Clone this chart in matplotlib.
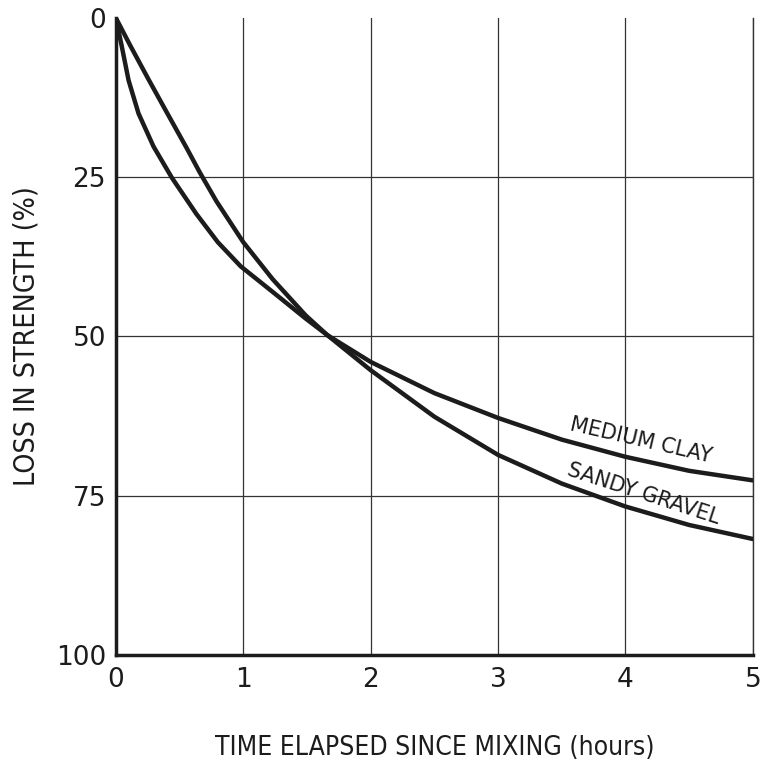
import matplotlib
matplotlib.use("Agg")
import matplotlib.pyplot as plt

# valores (perda de resistencia x tempo)
hours_clay = [0, 0.047, 0.10, 0.178, 0.296, 0.44, 0.633, 0.8, 0.98, 1.23, 1.49, 1.66, 2.0,
              2.5, 3.0, 3.5, 4.0, 4.5, 5.0]
loss_clay = [0, 4.5, 9.8, 15.0, 20.2, 25.1, 30.8, 35.2, 39.0, 43.0, 47.2, 49.8, 54.0,
             58.9, 62.8, 66.2, 68.9, 71.1, 72.6]

hours_gravel = [0, 0.112, 0.255, 0.41, 0.555, 0.66, 0.79, 1.0, 1.23, 1.49, 1.66, 2.0, 2.5,
                3.0, 3.5, 4.0, 4.5, 5.0]
loss_gravel = [0, 4.3, 9.6, 15.2, 20.4, 24.3, 28.8, 35.2, 41.0, 46.7, 49.8, 55.3, 62.6,
               68.6, 73.1, 76.7, 79.6, 81.8]

x_ticks = [0, 1, 2, 3, 4, 5]
x_labels = ["0", "1", "2", "3", "4", "5"]
y_ticks = [0, 25, 50, 75, 100]
y_labels = ["0", "25", "50", "75", "100"]

tick_font = {"family": ["Liberation Sans Narrow", "DejaVu Sans"]}
label_font = {"family": "DejaVu Sans", "stretch": "condensed"}
ink = "#1c1c1c"

fig = plt.figure(figsize=(7.62, 7.76), dpi=100)
ax = fig.add_axes([0.152, 0.156, 0.836, 0.821])

for xs, ys in [(hours_clay, loss_clay), (hours_gravel, loss_gravel)]:
    ax.plot(xs, ys, color=ink, lw=3.2, solid_capstyle="round", solid_joinstyle="round")

ax.set_xlim(0, 5)
ax.set_ylim(100, 0)
ax.set_xticks(x_ticks)
ax.set_xticklabels(x_labels, fontdict=tick_font, fontsize=19, color=ink)
ax.set_yticks(y_ticks)
ax.set_yticklabels(y_labels, fontdict=tick_font, fontsize=19, color=ink)
ax.tick_params(axis="both", length=0)
ax.tick_params(axis="x", pad=9)
ax.tick_params(axis="y", pad=7)

ax.grid(True, color="#333333", lw=0.9)
ax.set_axisbelow(True)
# sem linha horizontal no topo (0 %)
ax.yaxis.get_gridlines()[0].set_visible(False)

ax.spines["top"].set_visible(False)
ax.spines["right"].set_linewidth(1.0)
ax.spines["right"].set_color("#333333")
for side in ["left", "bottom"]:
    ax.spines[side].set_linewidth(2.5)
    ax.spines[side].set_color(ink)

ax.set_xlabel("TIME ELAPSED SINCE MIXING (hours)", fontdict=label_font, fontsize=19,
              color=ink, labelpad=30)
ax.set_ylabel("LOSS IN STRENGTH (%)", fontdict=label_font, fontsize=20.5,
              color=ink, labelpad=11)

ax.text(4.12, 66.4, "MEDIUM CLAY", family="DejaVu Sans", fontsize=15, color=ink,
        rotation=-13, ha="center", va="center", rotation_mode="anchor")
ax.text(4.14, 74.7, "SANDY GRAVEL", family="DejaVu Sans", fontsize=15, color=ink,
        rotation=-18, ha="center", va="center", rotation_mode="anchor")

fig.savefig("out.png", dpi=100)
